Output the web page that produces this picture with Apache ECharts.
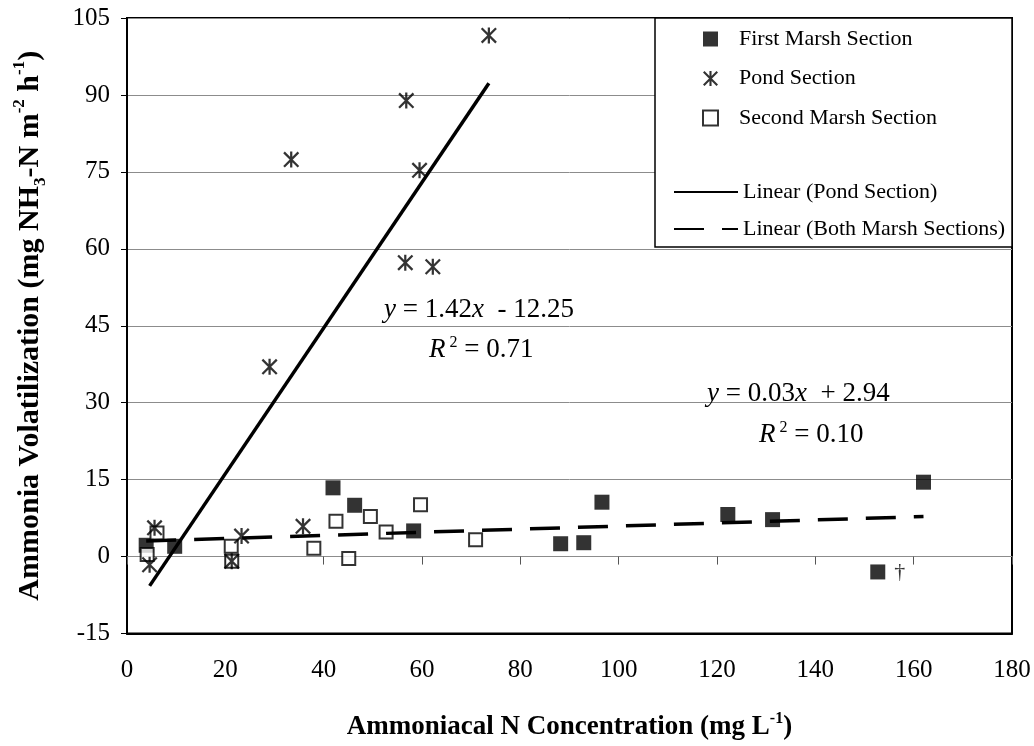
<!DOCTYPE html>
<html>
<head>
<meta charset="utf-8">
<script src="https://cdn.jsdelivr.net/npm/echarts@6/dist/echarts.min.js"></script>
<style>
  html, body { margin: 0; padding: 0; background: #fff; }
  #main { width: 1034px; height: 746px; }
</style>
</head>
<body>
<div id="main"></div>
<script>
// data
const firstMarshX = [3.9, 9.7, 41.9, 46.3, 58.3, 88.2, 92.9, 96.6, 122.2, 131.3, 152.7, 162.0]
const firstMarshY = [2.2, 2.0, 13.4, 10.0, 5.0, 2.5, 2.7, 10.6, 8.2, 7.2, -3.0, 14.5]
const flaggedIndex = 10   // point marked with a dagger

const pondX = [73.6, 56.8, 33.4, 59.5, 56.6, 62.2, 29.0, 5.6, 4.6, 23.3, 35.8, 21.3]
const pondY = [101.6, 88.9, 77.4, 75.3, 57.3, 56.5, 37.0, 5.6, -1.6, 4.0, 5.9, -0.9]

const secondMarshX = [4.1, 6.1, 21.2, 21.3, 38.0, 42.5, 45.1, 49.5, 52.7, 59.7, 70.9]
const secondMarshY = [0.4, 4.6, 2.0, -0.9, 1.6, 6.9, -0.4, 7.8, 4.8, 10.1, 3.3]

// trendline [slope, intercept]
const pondFit = [1.42, -12.25]
const marshFit = [0.03, 2.94]

const xTicks = [0, 180, 20]
const yTicks = [-15, 105, 15]

const FONT = 'Liberation Serif'

function pairs(xs, ys) {
    return xs.map(function (x, i) { return [x, ys[i]] })
}

function fitLine(fit, xs) {
    const lo = Math.min.apply(null, xs)
    const hi = Math.max.apply(null, xs)
    return [[lo, fit[0] * lo + fit[1]], [hi, fit[0] * hi + fit[1]]]
}

const starPath = 'path://M8.6,0 L11.4,0 L11.4,20 L8.6,20 Z M0,2 L2,0 L20,18 L18,20 Z M18,0 L20,2 L2,20 L0,18 Z'

const firstMarshData = pairs(firstMarshX, firstMarshY).map(function (p, i) {
    if (i !== flaggedIndex) return p
    return {
        value: p,
        label: {
            show: true, position: 'right', distance: 9, formatter: '\u2020',
            fontFamily: FONT, fontSize: 22, color: '#000'
        }
    }
})

function titleRich(size) {
    const sm = Math.round(size * 0.58)
    const lh = Math.round(size * 1.25)
    return {
        sup: { fontSize: sm, fontFamily: FONT, fontWeight: 'bold', verticalAlign: 'top', lineHeight: lh },
        sub: { fontSize: sm, fontFamily: FONT, fontWeight: 'bold', verticalAlign: 'bottom', lineHeight: lh },
        b: { fontSize: size, fontFamily: FONT, fontWeight: 'bold', lineHeight: lh }
    }
}

const eqRich = {
    i: { fontStyle: 'italic', fontSize: 27, fontFamily: FONT, fill: '#000' },
    n: { fontSize: 27, fontFamily: FONT, fill: '#000', lineHeight: 30 },
    s: { fontSize: 16, fontFamily: FONT, fill: '#000', verticalAlign: 'top', lineHeight: 30 }
}

const legendText = { fontFamily: FONT, fontSize: 22, color: '#000', lineHeight: 20 }

const myChart = echarts.init(document.getElementById('main'))

const option = {
    backgroundColor: '#fff',
    animation: false,
    grid: {
        left: 127, right: 22, top: 18, bottom: 111,
        show: true, borderColor: '#000', borderWidth: 2
    },
    xAxis: [
        {
            type: 'value', min: xTicks[0], max: xTicks[1], interval: xTicks[2],
            position: 'bottom',
            axisLine: { show: true, onZero: false, lineStyle: { color: '#000', width: 2 } },
            axisTick: { show: false },
            splitLine: { show: false },
            axisLabel: { fontFamily: FONT, fontSize: 25, color: '#000', margin: 24 },
            name: '{b|Ammoniacal N Concentration (mg L}{sup|-1}{b|)}',
            nameLocation: 'middle',
            nameGap: 77,
            nameTextStyle: { rich: titleRich(27), color: '#000' }
        },
        {
            // axis crossing at y = 0 with its ticks
            type: 'value', min: xTicks[0], max: xTicks[1], interval: xTicks[2],
            position: 'bottom',
            axisLine: { show: true, onZero: true, lineStyle: { color: '#8c8c8c', width: 1 } },
            axisTick: { show: true, length: 8, lineStyle: { color: '#555', width: 1 } },
            axisLabel: { show: false },
            splitLine: { show: false }
        }
    ],
    yAxis: {
        type: 'value', min: yTicks[0], max: yTicks[1], interval: yTicks[2],
        axisLine: { show: true, onZero: false, lineStyle: { color: '#000', width: 2 } },
        axisTick: { show: true, length: 6, lineStyle: { color: '#000' } },
        splitLine: { show: true, lineStyle: { color: '#8c8c8c', width: 1 } },
        axisLabel: { fontFamily: FONT, fontSize: 25, color: '#000', margin: 17 },
        name: '{b|Ammonia Volatilization (mg NH}{sub|3}{b|-N m}{sup|-2}{b| h}{sup|-1}{b|)}',
        nameLocation: 'middle',
        nameGap: 78,
        nameRotate: 90,
        nameTextStyle: { rich: titleRich(30), color: '#000' }
    },
    legend: [
        {
            data: ['First Marsh Section', 'Pond Section', 'Second Marsh Section'],
            orient: 'vertical',
            left: 697, top: 23,
            itemWidth: 15, itemHeight: 15, itemGap: 17.5,
            textStyle: Object.assign({ padding: [0, 0, 0, 16] }, legendText)
        },
        {
            data: ['Linear (Pond Section)', 'Linear (Both Marsh Sections)'],
            orient: 'vertical',
            left: 668, top: 176,
            itemWidth: 64, itemHeight: 14, itemGap: 15,
            itemStyle: { opacity: 0 },
            textStyle: legendText
        }
    ],
    graphic: [
        {
            type: 'rect', z: 3,
            shape: { x: 655, y: 18, width: 357, height: 229 },
            style: { fill: '#fff', stroke: '#000', lineWidth: 1.5 }
        },
        {
            type: 'text', x: 384, y: 295, z: 5,
            style: { text: '{i|y}{n| = 1.42}{i|x}{n|  - 12.25}', rich: eqRich }
        },
        {
            type: 'text', x: 429, y: 335, z: 5,
            style: { text: '{i|R}{s| 2}{n| = 0.71}', rich: eqRich }
        },
        {
            type: 'text', x: 707, y: 379, z: 5,
            style: { text: '{i|y}{n| = 0.03}{i|x}{n|  + 2.94}', rich: eqRich }
        },
        {
            type: 'text', x: 759, y: 420, z: 5,
            style: { text: '{i|R}{s| 2}{n| = 0.10}', rich: eqRich }
        }
    ],
    series: [
        {
            name: 'First Marsh Section',
            type: 'scatter',
            symbol: 'rect',
            symbolSize: 15,
            itemStyle: { color: '#000' },
            data: firstMarshData
        },
        {
            name: 'Second Marsh Section',
            type: 'scatter',
            symbol: 'rect',
            symbolSize: 13,
            itemStyle: { color: '#fff', borderColor: '#000', borderWidth: 2 },
            data: pairs(secondMarshX, secondMarshY)
        },
        {
            name: 'Pond Section',
            type: 'scatter',
            symbol: starPath,
            symbolSize: 16,
            itemStyle: { color: '#000' },
            data: pairs(pondX, pondY)
        },
        {
            name: 'Linear (Pond Section)',
            type: 'line',
            symbol: 'none',
            lineStyle: { color: '#000', width: 3.5 },
            itemStyle: { color: '#000' },
            data: fitLine(pondFit, pondX)
        },
        {
            name: 'Linear (Both Marsh Sections)',
            type: 'line',
            symbol: 'none',
            lineStyle: { color: '#000', width: 3.5, type: [30, 18] },
            itemStyle: { color: '#000' },
            data: fitLine(marshFit, firstMarshX.concat(secondMarshX))
        }
    ]
}

myChart.setOption(option)
</script>
</body>
</html>
